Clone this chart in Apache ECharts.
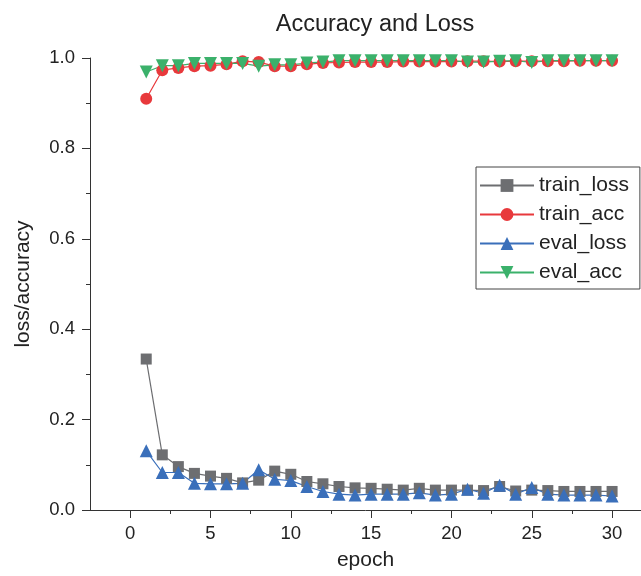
<!DOCTYPE html>
<html><head><meta charset="utf-8">
<script src="https://cdn.jsdelivr.net/npm/echarts@6/dist/echarts.min.js"></script>
<style>html,body{margin:0;padding:0;background:#fff}#c{width:641px;height:576px}</style>
</head><body><div id="c"></div>
<script>
const epochs = [1,2,3,4,5,6,7,8,9,10,11,12,13,14,15,16,17,18,19,20,21,22,23,24,25,26,27,28,29,30];
const trainLoss = [0.334,0.122,0.096,0.081,0.075,0.070,0.060,0.066,0.086,0.079,0.063,0.058,0.052,0.049,0.048,0.046,0.044,0.048,0.044,0.044,0.044,0.043,0.052,0.042,0.044,0.043,0.041,0.041,0.041,0.041];
const trainAcc = [0.910,0.973,0.978,0.982,0.983,0.986,0.993,0.991,0.982,0.982,0.986,0.989,0.990,0.991,0.991,0.991,0.992,0.992,0.992,0.992,0.993,0.993,0.992,0.993,0.993,0.993,0.993,0.994,0.994,0.994];
const evalLoss = [0.131,0.083,0.083,0.059,0.058,0.058,0.059,0.089,0.068,0.065,0.052,0.041,0.035,0.033,0.035,0.035,0.035,0.038,0.033,0.035,0.046,0.037,0.055,0.035,0.050,0.035,0.033,0.033,0.033,0.031];
const evalAcc = [0.969,0.983,0.983,0.988,0.988,0.988,0.988,0.982,0.985,0.985,0.989,0.991,0.994,0.994,0.994,0.994,0.994,0.994,0.994,0.994,0.991,0.991,0.993,0.994,0.990,0.994,0.994,0.994,0.994,0.994];
const xMajorTicks = [0,5,10,15,20,25,30];
const xMinorTicks = [2.5,7.5,12.5,17.5,22.5,27.5];
const seriesNames = ['train_loss','train_acc','eval_loss','eval_acc'];

const FONT = 'Liberation Sans, Arial, sans-serif';
const pts = arr => epochs.map((e,i)=>[e, arr[i]]);
const axisCol = '#333';
const chart = echarts.init(document.getElementById('c'), null, {renderer:'canvas'});
const mk = (name, data, color, symbol, size, rot) => ({
  name, type:'line', data: pts(data), xAxisIndex:0, yAxisIndex:0,
  symbol, symbolSize:size, symbolRotate: rot||0, showAllSymbol:true,
  itemStyle:{color}, lineStyle:{color, width:1.2}, animation:false, z:2
});
chart.setOption({
  animation:false,
  title:{text:'Accuracy and Loss', left:370, textAlign:'center', top:8, textStyle:{fontFamily:FONT, fontSize:23.5, fontWeight:'normal', color:'#222'}},
  grid:{left:90, right:0, top:58, bottom:66, containLabel:false},
  xAxis:[{
    type:'value', min:-2.5, max:31.8, name:'epoch', nameLocation:'middle', nameGap:40,
    nameTextStyle:{fontFamily:FONT, fontSize:21, color:'#222'},
    axisLine:{show:true, onZero:false, lineStyle:{color:axisCol, width:1}},
    axisTick:{show:true, length:8, lineStyle:{color:axisCol}, customValues:xMajorTicks},
    axisLabel:{fontFamily:FONT, fontSize:18.5, color:'#222', margin:14, customValues:xMajorTicks},
    splitLine:{show:false}
  },{
    type:'value', min:-2.5, max:31.8, position:'bottom', gridIndex:0,
    axisLine:{show:false, onZero:false},
    axisTick:{show:true, length:4, lineStyle:{color:axisCol}, customValues:xMinorTicks},
    axisLabel:{show:false, customValues:xMinorTicks},
    splitLine:{show:false}
  }],
  yAxis:{
    type:'value', min:0, max:1, interval:0.2, name:'loss/accuracy', nameLocation:'middle', nameGap:56,
    nameTextStyle:{fontFamily:FONT, fontSize:21, color:'#222'},
    axisLine:{show:true, onZero:false, lineStyle:{color:axisCol, width:1}},
    axisTick:{show:true, length:8, lineStyle:{color:axisCol}},
    minorTick:{show:true, splitNumber:2, length:4, lineStyle:{color:axisCol}},
    axisLabel:{fontFamily:FONT, fontSize:18.5, color:'#222', margin:15, formatter:v=>v.toFixed(1)},
    splitLine:{show:false}
  },
  legend:{
    orient:'vertical', left:476, top:167, padding:[8,11,6,3], itemGap:8,
    itemWidth:54, itemHeight:16, borderColor:'#444', borderWidth:1,
    textStyle:{fontFamily:FONT, fontSize:21, lineHeight:21, color:'#222'},
    data:seriesNames
  },
  series:[
    mk(seriesNames[0], trainLoss, '#6d6e71', 'rect', 11),
    mk(seriesNames[1], trainAcc, '#e8393c', 'circle', 12),
    mk(seriesNames[2], evalLoss, '#3a6fba', 'triangle', 13),
    mk(seriesNames[3], evalAcc, '#3bb16b', 'triangle', 13, 180)
  ]
});
</script></body></html>
